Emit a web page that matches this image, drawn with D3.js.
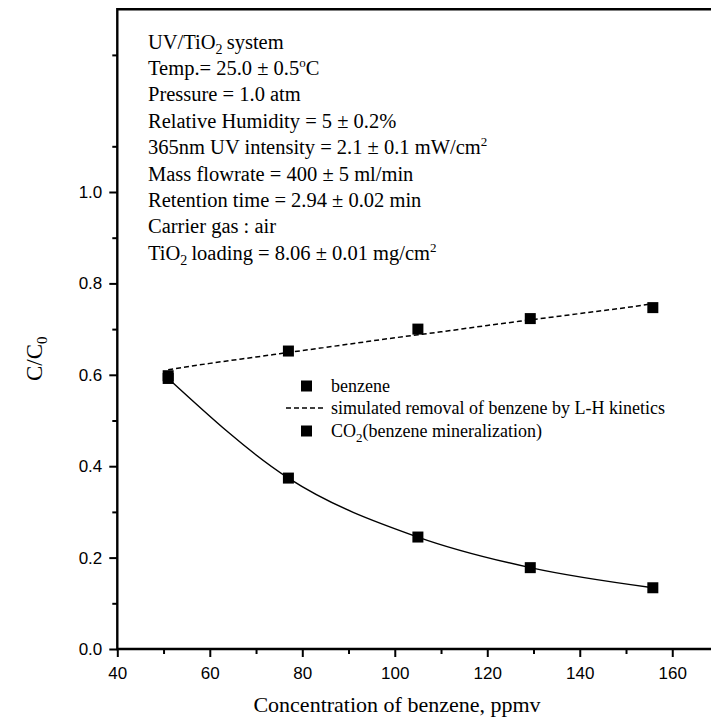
<!DOCTYPE html>
<html>
<head>
<meta charset="utf-8">
<script src="https://cdn.jsdelivr.net/npm/d3@7/dist/d3.min.js"></script>
<style>
  html, body { margin: 0; padding: 0; background: #fff; }
  svg { display: block; }
  .tick text { font-family: "Liberation Sans", Arial, sans-serif; font-size: 17px; fill: #000; }
  .serif { font-family: "Liberation Serif", "Times New Roman", serif; fill: #000; }
</style>
</head>
<body>
<svg id="chart" width="711" height="725"></svg>
<script>
// Measured benzene conversion and CO2 yield vs. inlet benzene concentration
const concentration = [51, 77, 105, 129.3, 155.8];
const benzeneRatio  = [0.598, 0.652, 0.700, 0.723, 0.747];
const co2Ratio      = [0.592, 0.374, 0.245, 0.178, 0.134];

// L-H kinetics simulation of benzene removal
const simConc  = [51, 60, 70, 80, 90, 100, 110, 120, 130, 140, 150, 155.5];
const simRatio = [0.611, 0.625, 0.639, 0.653, 0.667, 0.681, 0.694, 0.708, 0.721, 0.734, 0.747, 0.755];

// Axis ticks
const xMajorTicks = [40, 60, 80, 100, 120, 140, 160];
const xMinorTicks = [50, 70, 90, 110, 130, 150, 170];
const yMajorTicks = [0.0, 0.2, 0.4, 0.6, 0.8, 1.0];
const yMinorTicks = [0.1, 0.3, 0.5, 0.7, 0.9, 1.1, 1.3];

// Experimental conditions
const conditions = [
  [["UV/TiO"], ["2", "sub"], ["\u2009system"]],
  [["Temp.= 25.0 \u00b1 0.5"], ["o", "sup"], ["C"]],
  [["Pressure = 1.0 atm"]],
  [["Relative Humidity = 5 \u00b1 0.2%"]],
  [["365nm UV intensity = 2.1 \u00b1 0.1 mW/cm"], ["2", "sup"]],
  [["Mass flowrate = 400 \u00b1 5 ml/min"]],
  [["Retention time = 2.94 \u00b1 0.02 min"]],
  [["Carrier gas : air"]],
  [["TiO"], ["2", "sub"], ["\u2009loading = 8.06 \u00b1 0.01 mg/cm"], ["2", "sup"]]
];

const svg = d3.select("#chart");

const x = d3.scaleLinear().domain([40, 170]).range([117.3, 718.5]);
const y = d3.scaleLinear().domain([0, 1.4]).range([649, 9.2]);

// Frame (right side runs past the edge)
svg.append("path")
  .attr("d", `M${x(170) + 20},${y(1.4)} H${x(40)} V${y(0)} H${x(170) + 20}`)
  .attr("fill", "none").attr("stroke", "#000").attr("stroke-width", 2.4);

function styleAxis(g) {
  g.select(".domain").remove();
  g.selectAll(".tick line").attr("stroke", "#000").attr("stroke-width", 2);
}

svg.append("g").attr("transform", `translate(0,${y(0)})`)
  .call(d3.axisBottom(x).tickValues(xMajorTicks).tickSize(8).tickPadding(10).tickFormat(d3.format("d")))
  .call(styleAxis);
svg.append("g").attr("transform", `translate(0,${y(0)})`)
  .call(d3.axisBottom(x).tickValues(xMinorTicks).tickSize(5).tickFormat(""))
  .call(styleAxis);
svg.append("g").attr("transform", `translate(${x(40)},0)`)
  .call(d3.axisLeft(y).tickValues(yMajorTicks).tickSize(8).tickPadding(7).tickFormat(d3.format(".1f")))
  .call(styleAxis);
svg.append("g").attr("transform", `translate(${x(40)},0)`)
  .call(d3.axisLeft(y).tickValues(yMinorTicks).tickSize(5).tickFormat(""))
  .call(styleAxis);

// Axis titles
svg.append("text").attr("class", "serif")
  .attr("x", 397).attr("y", 712).attr("text-anchor", "middle")
  .attr("font-size", 22).text("Concentration of benzene, ppmv");

const yTitle = svg.append("text").attr("class", "serif")
  .attr("transform", `translate(42,${y(0.635)}) rotate(-90)`)
  .attr("text-anchor", "middle").attr("font-size", 23);
yTitle.append("tspan").text("C/C");
yTitle.append("tspan").attr("font-size", 15).attr("dy", 5).text("0");

// Simulated L-H curve (dashed)
const simLine = d3.line().x((d, i) => x(simConc[i])).y(d => y(d)).curve(d3.curveMonotoneX);
svg.append("path").attr("d", simLine(simRatio))
  .attr("fill", "none").attr("stroke", "#000").attr("stroke-width", 1.5)
  .attr("stroke-dasharray", "5,3");

// CO2 mineralization curve (solid)
const co2Line = d3.line().x((d, i) => x(concentration[i])).y(d => y(d)).curve(d3.curveMonotoneX);
svg.append("path").attr("d", co2Line(co2Ratio))
  .attr("fill", "none").attr("stroke", "#000").attr("stroke-width", 1.4);

// Data markers
const sq = 11;
function squares(values) {
  svg.append("g").selectAll("rect").data(values).join("rect")
    .attr("x", (d, i) => x(concentration[i]) - sq / 2)
    .attr("y", d => y(d) - sq / 2)
    .attr("width", sq).attr("height", sq).attr("fill", "#000");
}
squares(benzeneRatio);
squares(co2Ratio);

// Legend
const lg = svg.append("g").attr("class", "serif").attr("font-size", 18);
lg.append("rect").attr("x", 301).attr("y", 386 - sq / 2).attr("width", sq).attr("height", sq).attr("fill", "#000");
lg.append("text").attr("x", 331).attr("y", 392).text("benzene");
lg.append("line").attr("x1", 286).attr("x2", 324).attr("y1", 408).attr("y2", 408)
  .attr("stroke", "#000").attr("stroke-width", 1.3).attr("stroke-dasharray", "5,3");
lg.append("text").attr("x", 331).attr("y", 414).text("simulated removal of benzene by L-H kinetics");
lg.append("rect").attr("x", 301).attr("y", 431 - sq / 2).attr("width", sq).attr("height", sq).attr("fill", "#000");
const co2Text = lg.append("text").attr("x", 331).attr("y", 437);
co2Text.append("tspan").text("CO");
co2Text.append("tspan").attr("font-size", 13).attr("dy", 5).text("2");
co2Text.append("tspan").attr("dy", -5).text("(benzene mineralization)");

// Conditions block
const cond = svg.append("g").attr("class", "serif").attr("font-size", 20.5);
conditions.forEach((parts, row) => {
  const t = cond.append("text").attr("x", 148).attr("y", 48.5 + row * 26.4);
  let shift = 0;
  parts.forEach(([str, kind]) => {
    const ts = t.append("tspan").text(str);
    let target = 0;
    if (kind === "sub") { ts.attr("font-size", 14); target = 5; }
    if (kind === "sup") { ts.attr("font-size", 13); target = -8; }
    if (target !== shift) { ts.attr("dy", target - shift); shift = target; }
  });
});
</script>
</body>
</html>
